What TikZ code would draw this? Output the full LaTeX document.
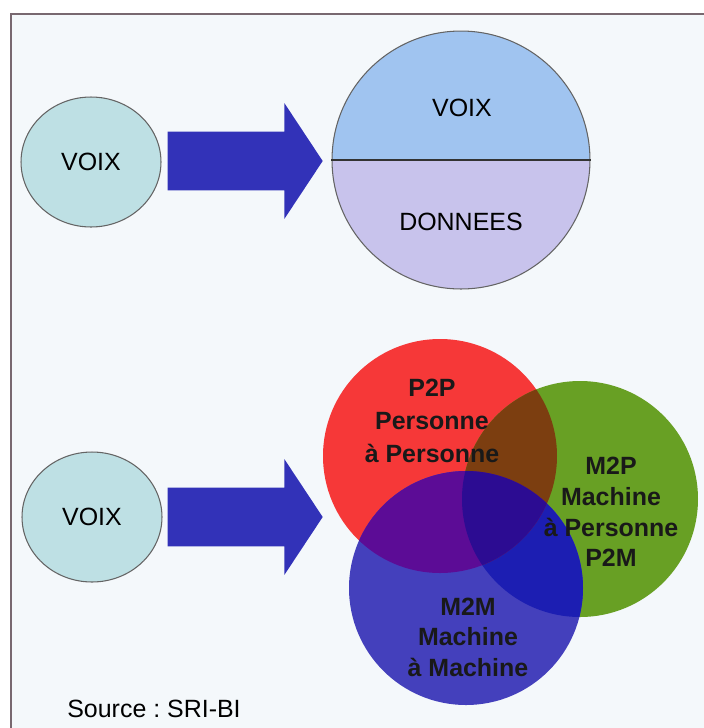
\documentclass[tikz,border=0pt]{standalone}
\usepackage{fontspec}
\setmainfont{Liberation Sans}
\usetikzlibrary{shapes.geometric,shapes.arrows,positioning}
\definecolor{VxPaper}{RGB}{244,248,251}
\definecolor{VxFrame}{RGB}{120,104,112}
\definecolor{VxTeal}{RGB}{190,224,228}
\definecolor{VxVoice}{RGB}{160,196,240}
\definecolor{VxData}{RGB}{200,195,236}
\definecolor{VxArrow}{RGB}{50,50,184}
\definecolor{VxOutline}{RGB}{100,100,100}
\definecolor{VxRed}{RGB}{246,56,56}
\definecolor{VxGreen}{RGB}{104,160,36}
\definecolor{VxBlue}{RGB}{68,64,188}
\definecolor{VxRedGreen}{RGB}{124,62,16}
\definecolor{VxRedBlue}{RGB}{92,12,150}
\definecolor{VxGreenBlue}{RGB}{28,30,178}
\definecolor{VxAll}{RGB}{44,12,146}
\tikzset{
  vx/text/.style={
    font=\fontsize{14.2}{17.6}\selectfont\frenchspacing,
    text=black,
    inner sep=0pt
  },
  vx/voix/.style={
    ellipse,
    draw=VxOutline,
    line width=0.6pt,
    fill=VxTeal,
    minimum width=2.8cm,
    minimum height=2.6cm,
    inner sep=0pt,
    font=\fontsize{14.2}{17.6}\selectfont
  },
  vx/arrow/.style={
    single arrow,
    fill=VxArrow,
    minimum height=3.1cm,
    inner xsep=0pt,
    inner ysep=0.58cm,
    single arrow head extend=0.57cm,
    single arrow tip angle=113
  },
  vx/venn/.style={
    font=\bfseries\fontsize{14.2}{17.4}\selectfont,
    text=black!90,
    align=center,
    inner sep=0pt
  }
}

\begin{document}
\begin{tikzpicture}[x=0.02cm,y=-0.02cm]
  \useasboundingbox (0,0) rectangle (704,728);
  % paper and frame
  \fill[white] (0,0) rectangle (704,728);
  \fill[VxPaper] (11,14) rectangle (704,728);
  \draw[VxFrame, line width=0.04cm] (11,728) -- (11,14) -- (704,14);

  % top row: voice only -> voice + data
  \node[vx/voix] (voixA) at (91,162) {VOIX};
  \node[vx/arrow] (arrowA) at (235.5,161) {};
  \coordinate (mixc) at (461,160);
  \begin{scope}
    \clip (mixc) circle[radius=129];
    \fill[VxVoice] (320,20) rectangle (600,160);
    \fill[VxData] (320,160) rectangle (600,300);
  \end{scope}
  \node[circle, draw=VxOutline, line width=0.6pt, minimum size=5.16cm, inner sep=0pt] (mix) at (mixc) {};
  \draw[black!80, line width=0.6pt] (mix.west) -- (mix.east);
  \node[vx/text] (voixB) at (462,108) {VOIX};
  \node[vx/text] (donnees) at (461,222) {DONNEES};

  % bottom row: voice -> P2P / M2P / M2M
  \node[vx/voix] (voixC) at (92,517) {VOIX};
  \node[vx/arrow] (arrowB) at (235.5,517) {};
  \coordinate (redc) at (440,456);
  \coordinate (greenc) at (580,499);
  \coordinate (bluec) at (466,588);
  \fill[VxRed] (redc) circle[radius=117];
  \fill[VxGreen] (greenc) circle[radius=118];
  \fill[VxBlue] (bluec) circle[radius=117];
  \begin{scope}
    \clip (greenc) circle[radius=118];
    \fill[VxGreenBlue] (bluec) circle[radius=117];
  \end{scope}
  \begin{scope}
    \clip (redc) circle[radius=117];
    \fill[VxRedGreen] (greenc) circle[radius=118];
    \fill[VxRedBlue] (bluec) circle[radius=117];
    \clip (greenc) circle[radius=118];
    \fill[VxAll] (bluec) circle[radius=117];
  \end{scope}
  \node[vx/venn, font=\bfseries\fontsize{14.2}{18.6}\selectfont] (p2p) at (432,421) {P2P\\Personne\\à Personne};
  \node[vx/venn] (m2p) at (611,512) {M2P\\Machine\\à Personne\\P2M};
  \node[vx/venn] (m2m) at (468,637) {M2M\\Machine\\à Machine};

  \node[vx/text, anchor=base west] (source) at (67,717) {Source : SRI-BI};
\end{tikzpicture}
\end{document}
